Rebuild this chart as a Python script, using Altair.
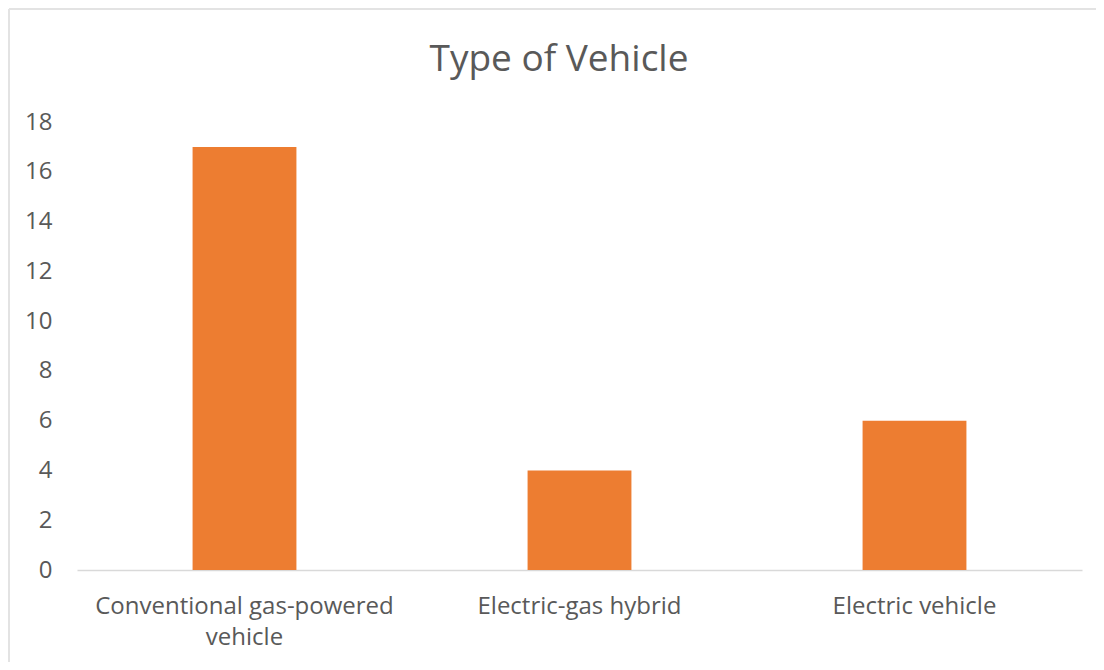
import altair as alt
import pandas as pd

categories = ["Conventional gas-powered vehicle", "Electric-gas hybrid", "Electric vehicle"]
values = [17, 4, 6]
y_ticks = [0, 2, 4, 6, 8, 10, 12, 14, 16, 18]
title_text = "Type of Vehicle"

df = pd.DataFrame({"cat": categories, "value": values})

label_expr = "datum.value == 'Conventional gas-powered vehicle' ? ['Conventional gas-powered', 'vehicle'] : datum.value"

FONT = "Open Sans"
GRAY = "#595959"

bars = alt.Chart(df).mark_bar(color="#ED7D31").encode(
    x=alt.X("cat:N", sort=categories,
            scale=alt.Scale(paddingInner=0.69, paddingOuter=0.345),
            axis=alt.Axis(title=None, labelAngle=0, labelExpr=label_expr,
                          labelFontSize=24, labelColor=GRAY, labelFont=FONT,
                          labelLineHeight=31, labelPadding=24, ticks=False,
                          domainColor="#d9d9d9", domainWidth=1.5, labelLimit=400)),
    y=alt.Y("value:Q", scale=alt.Scale(domain=[0, 18], nice=False),
            axis=alt.Axis(title=None, values=y_ticks, grid=False, domain=False, ticks=False,
                          labelFontSize=24, labelColor=GRAY, labelFont=FONT,
                          labelPadding=25)),
)

title = alt.Chart(df).transform_aggregate(n="count()").mark_text(
    text=title_text, font=FONT, fontSize=37, color=GRAY, align="center", baseline="middle"
).encode(x=alt.value(482), y=alt.value(-62))

frame_top = alt.Chart(df).transform_aggregate(n="count()").mark_rule(
    color="#e3e3e3", strokeWidth=2, clip=False
).encode(x=alt.value(-68), x2=alt.value(1030), y=alt.value(-113))
frame_left = alt.Chart(df).transform_aggregate(n="count()").mark_rule(
    color="#e3e3e3", strokeWidth=2, clip=False
).encode(x=alt.value(-68), y=alt.value(-113), y2=alt.value(560))

chart = alt.layer(frame_top, frame_left, title, bars).properties(
    width=1005, height=448,
    autosize=alt.AutoSizeParams(type="none"),
    padding={"left": 69, "top": 114, "right": 14, "bottom": 92},
).configure(
    background="white",
    view=alt.ViewConfig(strokeWidth=0, stroke="transparent"),
)

chart.save("out.html", embed_options={"renderer": "svg", "actions": False})
